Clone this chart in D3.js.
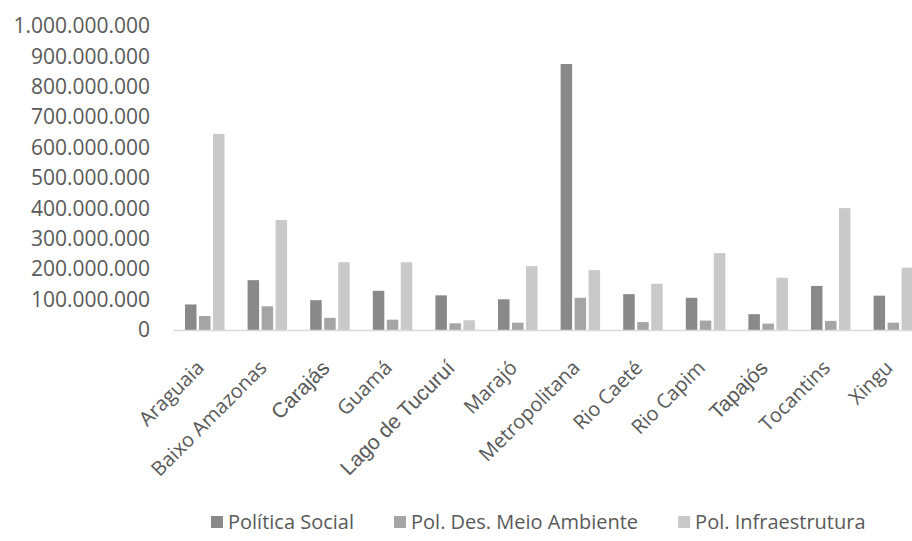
<!DOCTYPE html>
<html>
<head>
<meta charset="utf-8">
<script src="https://cdn.jsdelivr.net/npm/d3@7"></script>
<style>
  html, body { margin: 0; padding: 0; background: #fff; }
  svg { display: block; }
</style>
</head>
<body>
<svg id="chart" width="912" height="541"></svg>
<script>
// Regiões de integração do Pará
const categories = ["Araguaia", "Baixo Amazonas", "Carajás", "Guamá", "Lago de Tucuruí", "Marajó",
  "Metropolitana", "Rio Caeté", "Rio Capim", "Tapajós", "Tocantins", "Xingu"];

const seriesNames = ["Política Social", "Pol. Des. Meio Ambiente", "Pol. Infraestrutura"];

// Valores em R$
const politicaSocial = [84e6, 164e6, 98e6, 129e6, 114e6, 101e6, 875e6, 118e6, 106e6, 52e6, 145e6, 113e6];
const meioAmbiente   = [46e6, 78e6, 40e6, 34e6, 22e6, 24e6, 106e6, 26e6, 31e6, 21e6, 30e6, 24e6];
const infraestrutura = [645e6, 362e6, 223e6, 223e6, 32e6, 210e6, 197e6, 152e6, 253e6, 172e6, 401e6, 205e6];

const yTicks = [0, 1e8, 2e8, 3e8, 4e8, 5e8, 6e8, 7e8, 8e8, 9e8, 1e9];

const seriesValues = [politicaSocial, meioAmbiente, infraestrutura];
const colors = ["#898989", "#a5a5a5", "#c9c9c9"];
const textColor = "#595959";
const labelFont = "'Open Sans', sans-serif";
const altLabelFont = "'Liberation Sans', Arial, sans-serif";
const altFontLabels = new Set(["Carajás", "Lago de Tucuruí", "Tapajós"]);

const svg = d3.select("#chart");

const locale = d3.formatLocale({ decimal: ",", thousands: ".", grouping: [3], currency: ["R$", ""] });
const fmt = locale.format(",d");

const plotLeft = 173.2, plotRight = 924.4, plotTop = 26, plotBottom = 330;

const x0 = d3.scaleBand().domain(categories).range([plotLeft, plotRight]).padding(0);
const x1 = d3.scaleBand().domain(d3.range(3)).range([11.8, 51.3]).paddingInner(0.1786).paddingOuter(0);
const y = d3.scaleLinear().domain([0, 1e9]).range([plotBottom, plotTop]);

// Barras
const groups = svg.append("g").selectAll("g")
  .data(categories)
  .join("g")
  .attr("transform", d => `translate(${x0(d)},0)`);

groups.selectAll("rect")
  .data((c, i) => seriesValues.map((vals, s) => ({ s, v: vals[i] })))
  .join("rect")
  .attr("x", d => x1(d.s))
  .attr("width", x1.bandwidth())
  .attr("y", d => y(d.v))
  .attr("height", d => y(0) - y(d.v))
  .attr("fill", d => colors[d.s]);

// Eixo Y (apenas rótulos)
const yAxis = d3.axisLeft(y).tickValues(yTicks).tickFormat(fmt).tickSize(0).tickPadding(0);
const gy = svg.append("g").attr("transform", `translate(150,0)`).call(yAxis);
gy.select(".domain").remove();
gy.selectAll("text")
  .attr("fill", textColor)
  .style("font-family", labelFont)
  .style("font-size", "21px");

// Linha de base
svg.append("line")
  .attr("x1", plotLeft).attr("x2", 912)
  .attr("y1", plotBottom + 0.5).attr("y2", plotBottom + 0.5)
  .attr("stroke", "#d9d9d9").attr("stroke-width", 1.5);

// Rótulos das categorias, girados
const xAxis = d3.axisBottom(x0).tickSize(0).tickPadding(0);
const gx = svg.append("g").attr("transform", `translate(0,${plotBottom})`).call(xAxis);
gx.select(".domain").remove();
gx.selectAll(".tick text")
  .attr("text-anchor", "end")
  .attr("fill", textColor)
  .attr("dy", "0.35em")
  .attr("y", 0)
  .attr("transform", "translate(-4,34) rotate(-45)")
  .style("font-family", d => altFontLabels.has(d) ? altLabelFont : labelFont)
  .style("font-size", d => altFontLabels.has(d) ? "21px" : "20px");

// Legenda
const legend = svg.append("g").attr("transform", "translate(0,529)");
let lx = 211;
seriesNames.forEach((name, i) => {
  legend.append("rect")
    .attr("x", lx).attr("y", -13).attr("width", 12).attr("height", 12)
    .attr("fill", colors[i]);
  const t = legend.append("text")
    .attr("x", lx + 17).attr("y", 0)
    .attr("fill", textColor)
    .style("font-family", labelFont)
    .style("font-size", "20px")
    .text(name);
  lx += 17 + t.node().getComputedTextLength() + 40;
});
</script>
</body>
</html>
